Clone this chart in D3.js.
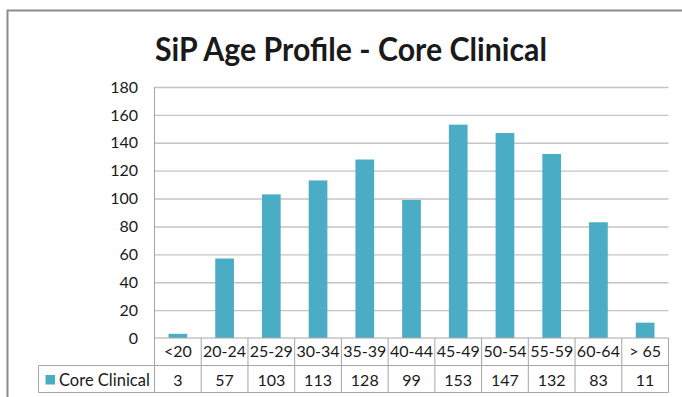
<!DOCTYPE html>
<html>
<head>
<meta charset="utf-8">
<script src="https://cdn.jsdelivr.net/npm/d3@7"></script>
<style>
  html, body { margin: 0; padding: 0; background: #fff; }
  svg { display: block; }
  text { font-family: Lato, "Liberation Sans", sans-serif; fill: #1a1a1a; }
</style>
</head>
<body>
<svg id="chart" width="682" height="397"></svg>
<script>
// Age bands and head counts for Core Clinical staff
const categories = ["<20", "20-24", "25-29", "30-34", "35-39", "40-44", "45-49", "50-54", "55-59", "60-64", "> 65"];
const seriesName = "Core Clinical";
const values = [3, 57, 103, 113, 128, 99, 153, 147, 132, 83, 11];
const yTicks = [0, 20, 40, 60, 80, 100, 120, 140, 160, 180];
const chartTitle = "SiP Age Profile - Core Clinical";

(function draw() {
  const svg = d3.select("#chart");
  const barColor = "#4bacc6";
  const lineColor = "#a6a6a6";
  const labelSize = 16;

  // plot region
  const plotLeft = 154.5, plotRight = 668.5, plotTop = 87, plotBottom = 338;
  const tableMid = 365.5, tableBottom = 392.5, legendLeft = 38.5;

  // outer chart frame
  svg.append("path")
    .attr("d", `M7.5,397 V10.5 H682`)
    .attr("fill", "none")
    .attr("stroke", "#8c8c8c")
    .attr("stroke-width", 2);

  // title
  svg.append("text")
    .attr("x", 351)
    .attr("y", 61)
    .attr("text-anchor", "middle")
    .attr("font-size", 32)
    .attr("font-weight", "bold")
    .attr("textLength", 392)
    .attr("lengthAdjust", "spacingAndGlyphs")
    .attr("fill", "#000")
    .text(chartTitle);

  const y = d3.scaleLinear().domain([0, 180]).range([plotBottom, plotTop]);
  const x = d3.scaleBand().domain(categories).range([plotLeft, plotRight])
    .paddingInner(0.6).paddingOuter(0.3);
  const cell = d3.scaleBand().domain(categories).range([plotLeft, plotRight]).padding(0);

  // gridlines
  svg.append("g")
    .attr("transform", `translate(${plotLeft},0)`)
    .call(d3.axisLeft(y).tickValues(yTicks.filter(v => v > 0)).tickSize(-(plotRight - plotLeft)).tickFormat(""))
    .call(g => g.select(".domain").remove())
    .call(g => g.selectAll("line").attr("stroke", "#c4c4c4").attr("stroke-width", 1.4));

  // y tick labels
  svg.append("g")
    .attr("transform", `translate(${plotLeft - 16.5},0)`)
    .call(d3.axisLeft(y).tickValues(yTicks).tickSize(0).tickPadding(0))
    .call(g => g.select(".domain").remove())
    .call(g => g.selectAll("text")
      .attr("font-size", labelSize)
      .attr("font-family", "Lato, 'Liberation Sans', sans-serif")
      .attr("fill", "#1a1a1a"));

  // bars
  svg.append("g").selectAll("rect")
    .data(values)
    .join("rect")
    .attr("x", (d, i) => x(categories[i]))
    .attr("width", x.bandwidth())
    .attr("y", d => y(d))
    .attr("height", d => y(0) - y(d))
    .attr("fill", barColor);

  // axis lines and data-table borders
  const grid = svg.append("g").attr("stroke", lineColor).attr("stroke-width", 1).attr("fill", "none");
  grid.append("line").attr("x1", plotLeft).attr("x2", plotLeft).attr("y1", plotTop).attr("y2", tableBottom);
  grid.append("line").attr("x1", plotLeft).attr("x2", plotRight).attr("y1", plotBottom).attr("y2", plotBottom);
  grid.append("line").attr("x1", legendLeft).attr("x2", plotRight).attr("y1", tableMid).attr("y2", tableMid);
  grid.append("line").attr("x1", legendLeft).attr("x2", plotRight).attr("y1", tableBottom).attr("y2", tableBottom);
  grid.append("line").attr("x1", legendLeft).attr("x2", legendLeft).attr("y1", tableMid).attr("y2", tableBottom);
  grid.selectAll(".col")
    .data(categories)
    .join("line")
    .attr("x1", d => cell(d) + cell.bandwidth())
    .attr("x2", d => cell(d) + cell.bandwidth())
    .attr("y1", plotBottom)
    .attr("y2", tableBottom);

  // category labels
  svg.append("g").selectAll("text")
    .data(categories)
    .join("text")
    .attr("x", d => cell(d) + cell.bandwidth() / 2)
    .attr("y", 357)
    .attr("text-anchor", "middle")
    .attr("font-size", labelSize)
    .text(d => d);

  // value row
  svg.append("g").selectAll("text")
    .data(values)
    .join("text")
    .attr("x", (d, i) => cell(categories[i]) + cell.bandwidth() / 2)
    .attr("y", 386)
    .attr("text-anchor", "middle")
    .attr("font-size", labelSize)
    .text(d => d);

  // legend key in table
  svg.append("rect")
    .attr("x", 45.5).attr("y", 375).attr("width", 9.5).attr("height", 9.5)
    .attr("fill", barColor);
  svg.append("text")
    .attr("x", 59).attr("y", 386)
    .attr("font-size", 16.5)
    .text(seriesName);
})();
</script>
</body>
</html>
